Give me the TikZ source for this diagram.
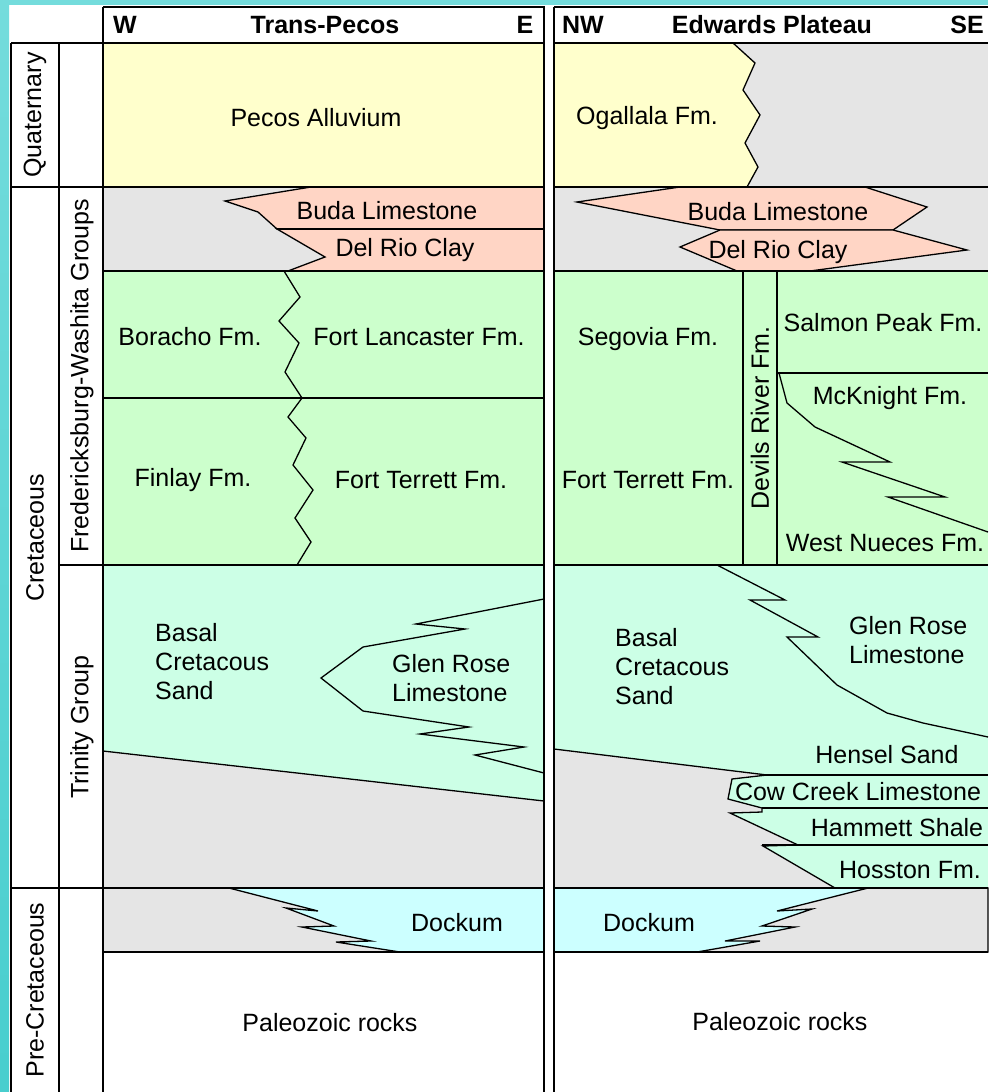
\documentclass[tikz,border=0pt]{standalone}
\usepackage{fontspec}
\setmainfont{Liberation Sans}

\definecolor{alluvium}{HTML}{FFFFCC}
\definecolor{absent}{HTML}{E5E5E5}
\definecolor{buda}{HTML}{FFD5C5}
\definecolor{fred}{HTML}{CCFFCC}
\definecolor{trinity}{HTML}{CCFFE6}
\definecolor{dockum}{HTML}{CCFFFF}
\definecolor{frame}{HTML}{74DCDC}
\definecolor{framelight}{HTML}{C8F8F8}
\definecolor{framedark}{HTML}{48CECE}

\begin{document}
\begin{tikzpicture}[x=1pt,y=-1pt,
  unit/.style={font=\fontsize{25}{29}\selectfont, inner sep=0pt},
  head/.style={font=\fontsize{25}{29}\selectfont\bfseries, inner sep=0pt},
  side/.style={unit, rotate=90},
  bound/.style={line width=1.3pt, line join=miter},
  rule/.style={line width=2pt},
  heavy/.style={line width=2.8pt}]

\useasboundingbox (0,0) rectangle (988,1092);
\fill[white] (0,0) rectangle (988,1092);
\shade[top color=frame, middle color=framelight, bottom color=framedark] (0,0) rectangle (9,1092);
\fill[frame] (0,0) rectangle (988,5);

% Trans-Pecos
\fill[alluvium] (103,43) rectangle (544,187);
\fill[absent] (103,187) rectangle (544,271);
\filldraw[fill=buda, bound] (311,187) -- (225,201) -- (258,212) -- (277,229) -- (544,229) -- (544,187) -- cycle;
\filldraw[fill=buda, bound] (277,229) -- (325,257) -- (288,271) -- (544,271) -- (544,229) -- cycle;
\fill[fred] (103,271) rectangle (544,565);
\fill[trinity] (103,565) rectangle (544,888);
\filldraw[fill=absent, bound] (103,751) -- (544,801) -- (544,888) -- (103,888) -- cycle;
\fill[absent] (103,888) rectangle (544,952);
\filldraw[fill=dockum, bound] (229,888) -- (318,911) -- (286,908) -- (334,926) -- (302,927) -- (371,941) -- (336,942) -- (400,952) -- (544,952) -- (544,888) -- cycle;
\draw[bound] (284,271) -- (300,297) -- (279,321) -- (299,343) -- (285,372) -- (302,398) -- (288,417) -- (306,438) -- (293,465) -- (313,490) -- (295,518) -- (311,542) -- (297,565);
\draw[bound] (544,599) -- (416,624) -- (465,629) -- (363,647) -- (321,678) -- (363,711) -- (469,727) -- (420,734) -- (524,747) -- (475,755) -- (544,773);

% Edwards Plateau
\fill[absent] (554,43) rectangle (988,271);
\filldraw[fill=alluvium, bound] (554,43) -- (733,43) -- (755,63) -- (743,90) -- (760,115) -- (745,143) -- (758,167) -- (747,187) -- (554,187) -- cycle;
\filldraw[fill=buda, bound] (577,202) -- (680,187) -- (865,187) -- (927,207) -- (893,230) -- (720,230) -- cycle;
\filldraw[fill=buda, bound] (720,230) -- (893,230) -- (967,250) -- (810,271) -- (737,271) -- (680,247) -- cycle;
\fill[fred] (554,271) rectangle (988,565);
\fill[trinity] (554,565) rectangle (988,888);
\filldraw[fill=absent, bound] (554,749) -- (767,775) -- (732,779) -- (728,799) -- (762,808) -- (762,812) -- (730,813) -- (798,845) -- (763,846) -- (835,888) -- (554,888) -- cycle;
\fill[dockum] (554,888) rectangle (988,952);
\filldraw[fill=absent, bound] (868,888) -- (777,911) -- (812,909) -- (762,926) -- (795,927) -- (725,941) -- (760,941) -- (697,952) -- (988,952) -- (988,888) -- cycle;
\draw[bound] (779,373) -- (787,403) -- (815,427) -- (890,462) -- (842,462) -- (945,497) -- (888,497) -- (988,532);
\draw[bound] (717,565) -- (785,600) -- (750,600) -- (818,637) -- (787,637) -- (837,685) -- (887,713) -- (923,723) -- (988,737);
\foreach \y in {775,808,845}
  \draw[rule] (762,\y) -- (988,\y);
\draw[rule] (777,373) -- (988,373);
\draw[heavy] (743,271) -- (743,565);
\draw[rule] (777,271) -- (777,565);

% frame
\draw[rule] (11,43) -- (11,1092);
\draw[rule] (59,43) -- (59,1092);
\draw[rule] (59,565) -- (103,565);
\foreach \y in {43,187,888}
  \draw[heavy] (11,\y) -- (103,\y);
\draw[rule] (103,7) -- (544,7) -- (544,1092);
\draw[heavy] (103,7) -- (103,1092);
\draw[rule] (103,398) -- (544,398);
\draw[rule] (277,229) -- (544,229);
\draw[heavy] (554,7) -- (554,1092);
\draw[rule] (554,7) -- (988,7);
\foreach \y in {43,187,271,565,888,952} {
  \draw[heavy] (103,\y) -- (544,\y);
  \draw[heavy] (554,\y) -- (988,\y);
}

% labels
\node[head] (tpW) at (125,25) {W};
\node[head] (tpT) at (325,25) {Trans-Pecos};
\node[head] (tpE) at (525,25) {E};
\node[head] (epW) at (583,25) {NW};
\node[head] (epT) at (772,25) {Edwards Plateau};
\node[head] (epE) at (967,25) {SE};

\node[side] (quat) at (35,115) {Quaternary};
\node[side] (cret) at (35,538) {Cretaceous};
\node[side] (prec) at (35,990) {Pre-Cretaceous};
\node[side] (fwg) at (82,376) {Fredericksburg-Washita Groups};
\node[side] (tri) at (82,727) {Trinity Group};

\node[unit] (tp1) at (316,118) {Pecos Alluvium};
\node[unit] (tp2) at (387,211) {Buda Limestone};
\node[unit] (tp3) at (405,250) {Del Rio Clay};
\node[unit] (tp4) at (190,337) {Boracho Fm.};
\node[unit] (tp5) at (419,337) {Fort Lancaster Fm.};
\node[unit] (tp6) at (193,480) {Finlay Fm.};
\node[unit] (tp7) at (421,480) {Fort Terrett Fm.};
\node[unit, align=left, anchor=west] (tp8) at (155,662) {Basal\\Cretacous\\Sand};
\node[unit, align=left, anchor=west] (tp9) at (392,678) {Glen Rose\\Limestone};
\node[unit] (tp10) at (457,923) {Dockum};
\node[unit] (tp11) at (330,1023) {Paleozoic rocks};

\node[unit] (ep1) at (647,118) {Ogallala Fm.};
\node[unit] (ep2) at (778,212) {Buda Limestone};
\node[unit] (ep3) at (778,252) {Del Rio Clay};
\node[unit] (ep4) at (648,339) {Segovia Fm.};
\node[unit] (ep5) at (648,480) {Fort Terrett Fm.};
\node[side] (ep6) at (760,418) {Devils River Fm.};
\node[unit] (ep7) at (883,323) {Salmon Peak Fm.};
\node[unit] (ep8) at (890,398) {McKnight Fm.};
\node[unit] (ep9) at (885,543) {West Nueces Fm.};
\node[unit, align=left, anchor=west] (ep10) at (615,667) {Basal\\Cretacous\\Sand};
\node[unit, align=left, anchor=west] (ep11) at (849,640) {Glen Rose\\Limestone};
\node[unit] (ep12) at (887,755) {Hensel Sand};
\node[unit] (ep13) at (858,792) {Cow Creek Limestone};
\node[unit] (ep14) at (897,828) {Hammett Shale};
\node[unit] (ep15) at (910,870) {Hosston Fm.};
\node[unit] (ep16) at (649,923) {Dockum};
\node[unit] (ep17) at (780,1022) {Paleozoic rocks};

\end{tikzpicture}
\end{document}
